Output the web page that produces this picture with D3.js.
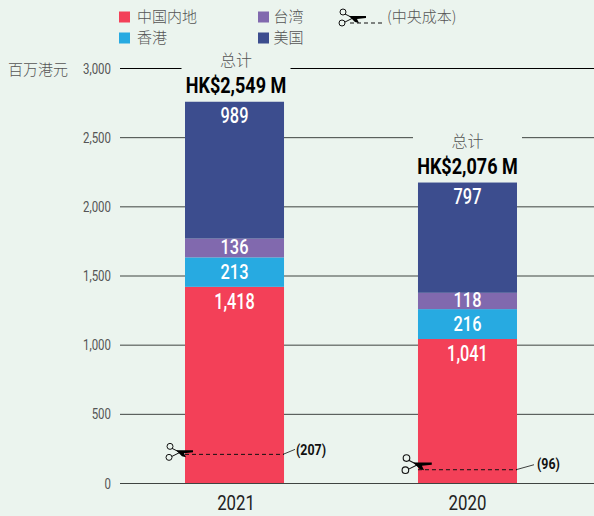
<!DOCTYPE html>
<html>
<head>
<meta charset="utf-8">
<script src="https://cdn.jsdelivr.net/npm/d3@7"></script>
<style>
html,body{margin:0;padding:0;background:#ebf4ee;}
svg{display:block;}
text{font-family:"Roboto","Noto Sans CJK SC",sans-serif;}
.cjk{font-family:"Noto Sans CJK SC",sans-serif;font-weight:300;}
</style>
</head>
<body>
<div id="chart"></div>
<script>
var years = ["2021", "2020"];
var categories = ["中国内地", "香港", "台湾", "美国"];
var colours = ["#f34058", "#27aae1", "#8169ae", "#3c4d8e"];
var mainland = [1418, 1041];
var hongkong = [213, 216];
var taiwan = [136, 118];
var usa = [989, 797];
var centralCost = [207, 96];
var totals = ["HK$2,549 M", "HK$2,076 M"];
var yTicks = [0, 500, 1000, 1500, 2000, 2500, 3000];

var width = 594, height = 516;
var bg = "#ebf4ee";

var svg = d3.select("#chart").append("svg")
	.attr("width", width)
	.attr("height", height);

var y = d3.scaleLinear().domain([0, 3000]).range([483, 68]);
var x = d3.scaleBand().domain(years).range([185, 517]).paddingInner(0.575);

var gridLayer = svg.append("g");
var gapLayer = svg.append("g");
var barLayer = svg.append("g");
var labelLayer = svg.append("g");

// no condensed face is installed, so squeeze the latin text horizontally
function narrow(sel, px, py, ratio){
	return sel.attr("transform", "translate(" + px + "," + py + ") scale(" + (ratio || 0.76) + ",1)");
}

//on empile les series de bas en haut
var series = [mainland, hongkong, taiwan, usa];

// grid + axis
var yAxis = d3.axisLeft(y).tickValues(yTicks).tickSize(474).tickFormat("");
var axisG = gridLayer.append("g")
	.attr("transform", "translate(594,0)")
	.call(yAxis);
axisG.select(".domain").remove();
axisG.selectAll(".tick line")
	.attr("stroke", function(d){return d == 3000 ? "#000" : "#3f4441";})
	.attr("stroke-width", 1);

yTicks.forEach(function(t){
	narrow(labelLayer.append("text"), 111, y(t), 0.74)
		.attr("dy", "0.36em")
		.attr("text-anchor", "end")
		.attr("fill", "#555")
		.attr("font-size", 15.5)
		.text(d3.format(",")(t));
});

labelLayer.append("text")
	.attr("class", "cjk")
	.attr("x", 8)
	.attr("y", 75)
	.attr("fill", "#555")
	.attr("font-size", 15)
	.text("百万港元");

// bars
years.forEach(function(year, i){
	var base = 0;
	var bx = x(year), bw = x.bandwidth();
	var cx = bx + bw / 2;
	var tx = cx + (i == 0 ? 1.5 : 0);
	series.forEach(function(s, j){
		var top = base + s[i];
		var big = j == 0 || j == 3;
		barLayer.append("rect")
			.attr("x", bx)
			.attr("y", y(top))
			.attr("width", bw)
			.attr("height", y(base) - y(top))
			.attr("fill", colours[j]);
		// big segments carry their value near the top, thin ones in the middle
		var ly = big ? y(top) + 14 : (y(top) + y(base)) / 2 - (j == 2 ? 1 : 0);
		narrow(labelLayer.append("text"), cx, ly, big ? 0.76 : 0.82)
			.attr("dy", "0.36em")
			.attr("text-anchor", "middle")
			.attr("fill", "#fff")
			.attr("font-weight", "500")
			.attr("font-size", big ? 21.5 : 20)
			.text(d3.format(",")(s[i]));
		base = top;
	});

	// total label, with a gap in the grid line behind it
	gapLayer.append("rect")
		.attr("x", tx - 54.5)
		.attr("y", y(base) - 48)
		.attr("width", 109)
		.attr("height", 44)
		.attr("fill", bg);
	labelLayer.append("text")
		.attr("class", "cjk")
		.attr("x", tx)
		.attr("y", y(base) - 36)
		.attr("text-anchor", "middle")
		.attr("fill", "#555")
		.attr("font-size", 16)
		.text("总计");
	narrow(labelLayer.append("text"), tx, y(base) - 9, 0.82)
		.attr("text-anchor", "middle")
		.attr("fill", "#000")
		.attr("font-weight", "bold")
		.attr("font-size", 22)
		.text(totals[i]);

	// year label
	narrow(labelLayer.append("text"), tx, 510, 0.8)
		.attr("text-anchor", "middle")
		.attr("fill", "#222")
		.attr("font-size", 21)
		.text(year);

	// central cost dashed line + scissors
	var cy = y(centralCost[i]);
	labelLayer.append("line")
		.attr("x1", bx).attr("x2", bx + bw)
		.attr("y1", cy).attr("y2", cy)
		.attr("stroke", "#111")
		.attr("stroke-dasharray", "4 3")
		.attr("stroke-width", 1);
	if(i == 0) scissors(labelLayer, bx, cy - 2, 1);
	else scissors(labelLayer, bx + 5, cy - 5, 1.1);

	var lx = bx + bw;
	labelLayer.append("line")
		.attr("x1", lx - 1).attr("x2", lx + (i == 0 ? 11 : 17))
		.attr("y1", cy).attr("y2", cy - 5)
		.attr("stroke", "#111")
		.attr("stroke-width", 0.8);
	narrow(labelLayer.append("text"), lx + (i == 0 ? 12 : 20), cy + (i == 0 ? 1 : -1), 0.8)
		.attr("fill", "#111")
		.attr("font-weight", "bold")
		.attr("font-size", 15.5)
		.text("(" + centralCost[i] + ")");
});

function scissors(parent, px, py, k){
	var g = parent.append("g").attr("transform", "translate(" + px + "," + py + ") scale(" + k + ")");
	g.append("circle").attr("cx", -15).attr("cy", -6).attr("r", 3)
		.attr("fill", "none").attr("stroke", "#111").attr("stroke-width", 1);
	g.append("circle").attr("cx", -16).attr("cy", 5).attr("r", 3)
		.attr("fill", "none").attr("stroke", "#111").attr("stroke-width", 1);
	g.append("path").attr("d", "M-13,-4L-5,0M-13,4L-5,0").attr("stroke", "#111").attr("stroke-width", 1).attr("fill", "none");
	g.append("path").attr("d", "M-9,-2L8,-2L8,0L-1,1L1,5L-3,4L-6,1Z").attr("fill", "#000");
}

// legend
var legendX = [119, 258], legendY = [17, 38], legendGap = [18, 15.5];
categories.forEach(function(c, i){
	var col = i < 2 ? 0 : 1, row = i % 2;
	labelLayer.append("rect")
		.attr("x", legendX[col])
		.attr("y", legendY[row] - 5.5)
		.attr("width", 11)
		.attr("height", 11)
		.attr("fill", colours[i]);
	labelLayer.append("text")
		.attr("class", "cjk")
		.attr("x", legendX[col] + legendGap[col])
		.attr("y", legendY[row] + 5)
		.attr("fill", "#555")
		.attr("font-size", 15)
		.text(c);
});
scissors(labelLayer, 358, 18, 1);
labelLayer.append("line")
	.attr("x1", 350).attr("x2", 383)
	.attr("y1", 23).attr("y2", 23)
	.attr("stroke", "#111")
	.attr("stroke-dasharray", "4 3")
	.attr("stroke-width", 1);
labelLayer.append("text")
	.attr("class", "cjk")
	.attr("x", 387)
	.attr("y", 22)
	.attr("fill", "#555")
	.attr("font-size", 15)
	.text("(中央成本)");
</script>
</body>
</html>
